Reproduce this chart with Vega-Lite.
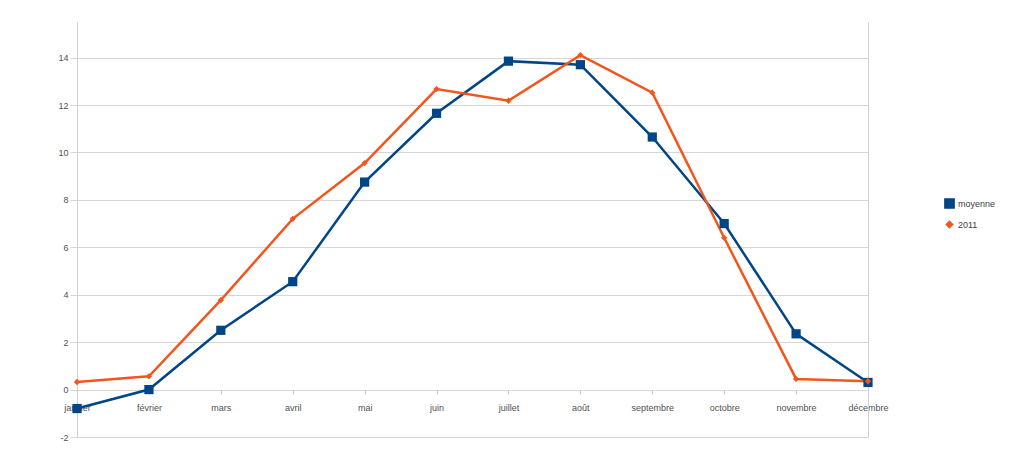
{
  "$schema": "https://vega.github.io/schema/vega-lite/v6.json",
  "width": 791,
  "height": 415,
  "autosize": {"type": "none"},
  "padding": {"left": 77, "top": 22, "right": 160, "bottom": 18},
  "background": "white",
  "config": {
    "view": {"stroke": null},
    "font": "Liberation Sans",
    "axis": {"labelFont": "Liberation Sans", "labelFontSize": 9, "labelColor": "#404040"}
  },
  "data": {
    "values": [
      {"mois": "janvier", "serie": "moyenne", "temp": -0.8},
      {"mois": "février", "serie": "moyenne", "temp": 0.0},
      {"mois": "mars", "serie": "moyenne", "temp": 2.5},
      {"mois": "avril", "serie": "moyenne", "temp": 4.55},
      {"mois": "mai", "serie": "moyenne", "temp": 8.75},
      {"mois": "juin", "serie": "moyenne", "temp": 11.65},
      {"mois": "juillet", "serie": "moyenne", "temp": 13.85},
      {"mois": "août", "serie": "moyenne", "temp": 13.7},
      {"mois": "septembre", "serie": "moyenne", "temp": 10.65},
      {"mois": "octobre", "serie": "moyenne", "temp": 7.0},
      {"mois": "novembre", "serie": "moyenne", "temp": 2.35},
      {"mois": "décembre", "serie": "moyenne", "temp": 0.3},
      {"mois": "janvier", "serie": "2011", "temp": 0.32},
      {"mois": "février", "serie": "2011", "temp": 0.56},
      {"mois": "mars", "serie": "2011", "temp": 3.77},
      {"mois": "avril", "serie": "2011", "temp": 7.2},
      {"mois": "mai", "serie": "2011", "temp": 9.55},
      {"mois": "juin", "serie": "2011", "temp": 12.67},
      {"mois": "juillet", "serie": "2011", "temp": 12.18},
      {"mois": "août", "serie": "2011", "temp": 14.1},
      {"mois": "septembre", "serie": "2011", "temp": 12.52},
      {"mois": "octobre", "serie": "2011", "temp": 6.4},
      {"mois": "novembre", "serie": "2011", "temp": 0.45},
      {"mois": "décembre", "serie": "2011", "temp": 0.35}
    ]
  },
  "encoding": {
    "x": {
      "field": "mois",
      "type": "ordinal",
      "sort": ["janvier", "février", "mars", "avril", "mai", "juin", "juillet", "août", "septembre", "octobre", "novembre", "décembre"],
      "scale": {"type": "point", "padding": 0},
      "axis": {"title": null, "labelAngle": 0, "offset": -47, "domain": false, "grid": false, "tickSize": 4, "tickColor": "#c8c8c8", "labelPadding": 9, "labelColor": "#505050"}
    },
    "y": {
      "field": "temp",
      "type": "quantitative",
      "scale": {"domain": [-2, 15.5], "nice": false, "zero": false}
    },
    "color": {
      "field": "serie",
      "type": "nominal",
      "scale": {"domain": ["moyenne", "2011"], "range": ["#004586", "#f2561d"]},
      "legend": {"orient": "none", "legendX": 867, "legendY": 176, "title": null, "labelFontSize": 9, "labelFont": "Liberation Sans", "labelColor": "#404040", "symbolSize": 40, "rowPadding": 6, "padding": 0, "labelOffset": 3}
    }
  },
  "layer": [
    {
      "mark": {"type": "line", "strokeWidth": 2.5},
      "encoding": {
        "y": {
          "field": "temp",
          "type": "quantitative",
          "scale": {"domain": [-2, 15.5], "nice": false, "zero": false},
          "axis": {"title": null, "values": [-2, 0, 2, 4, 6, 8, 10, 12, 14], "labelExpr": "'' + datum.value", "grid": true, "gridColor": "#d6d6d6", "tickColor": "#d6d6d6", "tickSize": 7, "domainColor": "#d0d0d0", "labelPadding": 2, "labelColor": "#505050"}
        }
      }
    },
    {
      "mark": {"type": "point", "filled": true, "opacity": 1},
      "encoding": {
        "y": {
          "field": "temp",
          "type": "quantitative",
          "scale": {"domain": [-2, 15.5], "nice": false, "zero": false},
          "axis": null
        },
        "shape": {"field": "serie", "type": "nominal", "scale": {"domain": ["moyenne", "2011"], "range": ["square", "diamond"]}, "legend": {"orient": "none", "legendX": 867, "legendY": 176, "title": null, "labelFontSize": 9, "symbolSize": 40, "rowPadding": 6, "padding": 0, "labelOffset": 3}},
        "size": {"field": "serie", "type": "nominal", "scale": {"domain": ["moyenne", "2011"], "range": [85, 40]}, "legend": null}
      }
    },
    {
      "mark": {"type": "line", "opacity": 0},
      "encoding": {
        "y": {
          "field": "temp",
          "type": "quantitative",
          "scale": {"domain": [-2, 15.5], "nice": false, "zero": false},
          "axis": {"orient": "right", "title": null, "labels": false, "ticks": false, "grid": false, "domain": true, "domainColor": "#d0d0d0"}
        }
      }
    }
  ],
  "resolve": {"axis": {"y": "independent"}}
}
